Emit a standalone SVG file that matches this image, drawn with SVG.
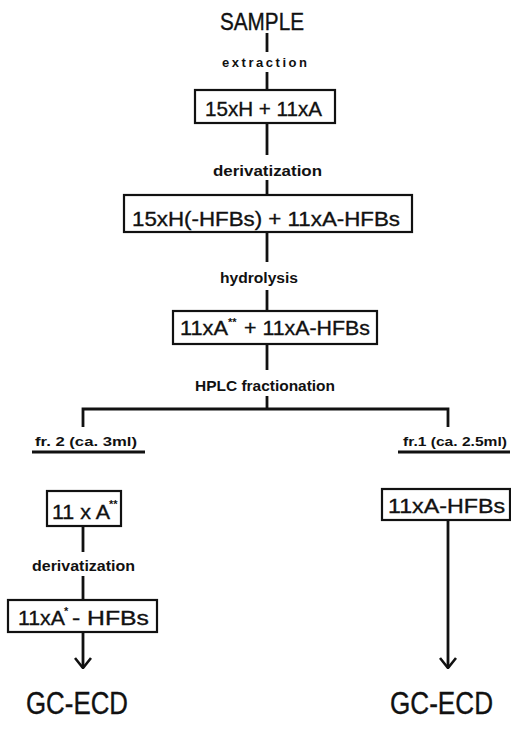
<svg xmlns="http://www.w3.org/2000/svg" width="511" height="731" viewBox="0 0 511 731">
<style>
.t{font-family:"Liberation Sans",Arial,sans-serif;fill:#111;stroke:#111;stroke-width:0.35}
.lab{font-size:14px;font-weight:bold;stroke:none}
.big{font-size:21px}
.sup{font-size:11px;font-weight:bold;stroke:none}
.box{fill:none;stroke:#111;stroke-width:2.2}
.ln{fill:none;stroke:#111;stroke-width:2.8}
</style>
<defs>
<marker id="arr" viewBox="0 0 12 18" refX="11" refY="9" markerWidth="12" markerHeight="18" markerUnits="userSpaceOnUse" orient="auto">
<path d="M1,1 L11,9 L1,17" fill="none" stroke="#111" stroke-width="2.6"/>
</marker>
</defs>
<rect width="511" height="731" fill="#fff"/>
<g id="connectors">
<line class="ln" x1="267" y1="33" x2="267" y2="52"/>
<line class="ln" x1="267" y1="72" x2="267" y2="89"/>
<line class="ln" x1="267" y1="124" x2="267" y2="155"/>
<line class="ln" x1="267" y1="180" x2="267" y2="195"/>
<line class="ln" x1="267" y1="233" x2="267" y2="262"/>
<line class="ln" x1="267" y1="290" x2="267" y2="310"/>
<line class="ln" x1="267" y1="345" x2="267" y2="370"/>
<line class="ln" x1="267" y1="396" x2="267" y2="409"/>
<polyline class="ln" points="83,427 83,409 448,409 448,427"/>
<line class="ln" x1="32" y1="452" x2="145" y2="452"/>
<line class="ln" x1="398" y1="452" x2="510" y2="452"/>
<line class="ln" x1="83" y1="527" x2="83" y2="552"/>
<line class="ln" x1="83" y1="576" x2="83" y2="599"/>
<line class="ln" x1="83" y1="633" x2="83" y2="668" marker-end="url(#arr)"/>
<line class="ln" x1="448" y1="521" x2="448" y2="668" marker-end="url(#arr)"/>
</g>
<g id="sample"><text class="t" x="220" y="30" font-size="23" textLength="84" lengthAdjust="spacingAndGlyphs">SAMPLE</text></g>
<g id="extraction"><text class="t lab" x="222" y="67" font-size="13" style="font-size:13px" textLength="85" lengthAdjust="spacing">extraction</text></g>
<g id="box1"><rect class="box" x="195" y="90" width="140" height="33"/><text class="t big" x="205" y="116" textLength="117" lengthAdjust="spacingAndGlyphs">15xH + 11xA</text></g>
<g id="derivatization1"><text class="t lab" x="213" y="176" textLength="109" lengthAdjust="spacingAndGlyphs">derivatization</text></g>
<g id="box2"><rect class="box" x="124" y="195" width="288" height="37"/><text class="t big" x="132" y="226" textLength="268" lengthAdjust="spacingAndGlyphs">15xH(-HFBs) + 11xA-HFBs</text></g>
<g id="hydrolysis"><text class="t lab" x="220" y="283" textLength="78" lengthAdjust="spacingAndGlyphs">hydrolysis</text></g>
<g id="box3"><rect class="box" x="173" y="311" width="204" height="33"/>
<text class="t big" x="180" y="335" textLength="48" lengthAdjust="spacingAndGlyphs">11xA</text>
<text class="t sup" x="228" y="326">**</text>
<text class="t big" x="244" y="335" textLength="126" lengthAdjust="spacingAndGlyphs">+ 11xA-HFBs</text></g>
<g id="hplc"><text class="t lab" x="195" y="391" textLength="140" lengthAdjust="spacingAndGlyphs">HPLC fractionation</text></g>
<g id="fr2"><text class="t lab" x="35" y="446" style="font-size:13px" textLength="102" lengthAdjust="spacingAndGlyphs">fr. 2 (ca. 3ml)</text></g>
<g id="fr1"><text class="t lab" x="403" y="446" style="font-size:13px" textLength="104" lengthAdjust="spacingAndGlyphs">fr.1 (ca. 2.5ml)</text></g>
<g id="box4"><rect class="box" x="47" y="491" width="74" height="35"/>
<text class="t big" x="52" y="519" textLength="58" lengthAdjust="spacingAndGlyphs">11 x A</text>
<text class="t sup" x="109" y="508">**</text></g>
<g id="derivatization2"><text class="t lab" x="32" y="571" textLength="103" lengthAdjust="spacingAndGlyphs">derivatization</text></g>
<g id="box5"><rect class="box" x="8" y="600" width="149" height="32"/>
<text class="t big" x="18" y="625" textLength="47" lengthAdjust="spacingAndGlyphs">11xA</text>
<text class="t sup" x="64" y="615">*</text>
<text class="t big" x="72" y="625" textLength="77" lengthAdjust="spacingAndGlyphs">- HFBs</text></g>
<g id="box6"><rect class="box" x="382" y="489" width="128" height="31"/><text class="t big" x="388" y="513" textLength="117" lengthAdjust="spacingAndGlyphs">11xA-HFBs</text></g>
<g id="gc1"><text class="t" x="26" y="714" font-size="31" textLength="102" lengthAdjust="spacingAndGlyphs">GC-ECD</text></g>
<g id="gc2"><text class="t" x="390" y="714" font-size="31" textLength="103" lengthAdjust="spacingAndGlyphs">GC-ECD</text></g>
</svg>
